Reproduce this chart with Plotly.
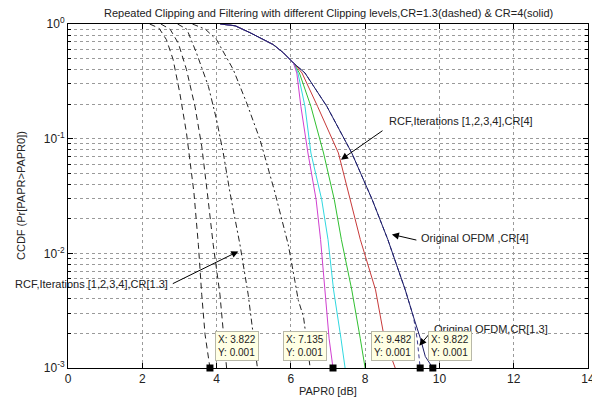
import plotly.graph_objects as go

# ---------------- data ----------------
# CR = 4 (solid curves): RCF iterations 1..4 and original OFDM
db_cr4_it4 = [4.1, 4.5, 4.9, 5.2, 5.53, 5.8, 6.07, 6.16, 6.27, 6.46, 6.68, 6.80, 6.92, 7.03, 7.135]
cc_cr4_it4 = [1.0, 0.965, 0.84, 0.75, 0.66, 0.56, 0.457, 0.374, 0.191, 0.075, 0.0294, 0.0132, 0.0048, 0.0018, 0.001]

db_cr4_it3 = [4.1, 4.5, 4.9, 5.2, 5.53, 5.8, 6.07, 6.19, 6.38, 6.54, 6.83, 7.00, 7.15, 7.35, 7.46]
cc_cr4_it3 = [1.0, 0.965, 0.84, 0.75, 0.66, 0.56, 0.457, 0.374, 0.191, 0.075, 0.0294, 0.0132, 0.0048, 0.0018, 0.001]

db_cr4_it2 = [4.1, 4.5, 4.9, 5.2, 5.53, 5.8, 6.07, 6.23, 6.54, 6.88, 7.17, 7.36, 7.64, 7.87, 8.00]
cc_cr4_it2 = [1.0, 0.965, 0.84, 0.75, 0.66, 0.56, 0.457, 0.374, 0.191, 0.075, 0.0294, 0.0132, 0.0048, 0.0018, 0.001]

db_cr4_it1 = [4.1, 4.5, 4.9, 5.2, 5.53, 5.8, 6.07, 6.30, 6.72, 7.28, 7.60, 7.87, 8.28, 8.52, 8.81]
cc_cr4_it1 = [1.0, 0.965, 0.84, 0.75, 0.66, 0.56, 0.457, 0.374, 0.191, 0.075, 0.0294, 0.0132, 0.0048, 0.0018, 0.001]

db_orig_cr4 = [4.1, 4.5, 4.9, 5.2, 5.53, 5.8, 6.07, 6.38, 6.97, 7.64, 8.19, 8.61, 9.08, 9.30, 9.49, 9.62, 9.822]
cc_orig_cr4 = [1.0, 0.965, 0.84, 0.75, 0.66, 0.56, 0.457, 0.374, 0.191, 0.075, 0.0294, 0.0132, 0.0048, 0.0028, 0.0018, 0.00126, 0.001]

db_orig_cr13 = [4.1, 4.5, 4.9, 5.2, 5.53, 5.8, 6.07, 6.38, 6.97, 7.64, 8.19, 8.61, 9.08, 9.30, 9.40, 9.482]
cc_orig_cr13 = [1.0, 0.965, 0.84, 0.75, 0.66, 0.56, 0.457, 0.374, 0.191, 0.075, 0.0294, 0.0132, 0.0048, 0.0028, 0.0018, 0.001]

# CR = 1.3 (dashed curves): RCF iterations 4,3,2,1 (left to right)
db_cr13_it4 = [2.2, 2.45, 2.65, 2.83, 3.01, 3.19, 3.39, 3.51, 3.60, 3.69, 3.822]
cc_cr13_it4 = [1.0, 0.92, 0.73, 0.49, 0.25, 0.112, 0.034, 0.0119, 0.0044, 0.00196, 0.001]

db_cr13_it3 = [2.5, 2.75, 2.97, 3.19, 3.42, 3.60, 3.75, 3.91, 4.09, 4.18, 4.27]
cc_cr13_it3 = [1.0, 0.9, 0.68, 0.40, 0.19, 0.086, 0.034, 0.0119, 0.0044, 0.00196, 0.001]

db_cr13_it2 = [2.95, 3.2, 3.46, 3.78, 4.00, 4.18, 4.36, 4.63, 4.85, 5.10]
cc_cr13_it2 = [1.0, 0.9, 0.558, 0.286, 0.146, 0.075, 0.034, 0.0119, 0.0044, 0.001]

db_cr13_it1 = [3.35, 3.7, 4.00, 4.45, 4.81, 5.17, 5.57, 5.93, 6.11, 6.20, 6.34, 6.52]
cc_cr13_it1 = [1.0, 0.9, 0.73, 0.40, 0.205, 0.098, 0.034, 0.0119, 0.0057, 0.0039, 0.0028, 0.001]

# data tips
tip_x = [3.822, 7.135, 9.482, 9.822]
tip_y = [0.001, 0.001, 0.001, 0.001]

x_ticks = [0, 2, 4, 6, 8, 10, 12, 14]
y_ticks = [0.001, 0.01, 0.1, 1]
y_ticktext = ["10<sup>-3</sup>", "10<sup>-2</sup>", "10<sup>-1</sup>", "10<sup>0</sup>"]
y_minor = [m * 10.0 ** e for e in (-3, -2, -1) for m in range(2, 10)]

title_text = "Repeated Clipping and Filtering with different Clipping levels,CR=1.3(dashed) &amp; CR=4(solid)"

# ---------------- figure ----------------
fig = go.Figure()

def add_line(x, y, color, dash="solid", width=1):
    fig.add_trace(go.Scatter(x=x, y=y, mode="lines",
                             line=dict(color=color, width=width, dash=dash),
                             showlegend=False, hoverinfo="skip"))

dash_long = "6px,4px"
dash_dot = "6px,3px,2px,3px"
add_line(db_cr13_it4, cc_cr13_it4, "#222222", dash_long)
add_line(db_cr13_it3, cc_cr13_it3, "#222222", dash_long)
add_line(db_cr13_it2, cc_cr13_it2, "#222222", dash_dot)
add_line(db_cr13_it1, cc_cr13_it1, "#222222", dash_dot)

add_line(db_orig_cr13, cc_orig_cr13, "#3a3a8a", "4px,3px")
add_line(db_cr4_it1, cc_cr4_it1, "#c83a3a")
add_line(db_cr4_it2, cc_cr4_it2, "#30c030")
add_line(db_cr4_it3, cc_cr4_it3, "#30d8e0")
add_line(db_cr4_it4, cc_cr4_it4, "#d040d0")
add_line(db_orig_cr4, cc_orig_cr4, "#1c1c68")

fig.add_trace(go.Scatter(x=tip_x, y=tip_y, mode="markers",
                         marker=dict(symbol="square", size=7, color="black"),
                         cliponaxis=False, showlegend=False, hoverinfo="skip"))

grid_col = "#9a9a9a"
# the page body adds an 8px offset, so the figure is 8px smaller and margins shifted
fig.update_layout(
    width=592, height=392,
    margin=dict(l=60, r=12, t=16, b=32, autoexpand=False),
    paper_bgcolor="white", plot_bgcolor="white",
    font=dict(family="Liberation Sans, Arial, sans-serif", size=12, color="#222"),
    xaxis=dict(range=[0, 14], tickvals=x_ticks, showgrid=True, gridcolor=grid_col,
               griddash="dot", gridwidth=1, zeroline=False, showline=True,
               linecolor="black", linewidth=1, mirror="ticks", ticks="inside",
               ticklen=5, tickcolor="black", tickfont=dict(size=12), automargin=False),
    yaxis=dict(type="log", range=[-3, 0], tickvals=y_ticks, ticktext=y_ticktext,
               showgrid=True, gridcolor=grid_col, griddash="dot", gridwidth=1,
               zeroline=False, showline=True, linecolor="black", linewidth=1,
               mirror="ticks", ticks="inside", ticklen=5, tickcolor="black",
               tickfont=dict(size=12), automargin=False,
               minor=dict(tickmode="array", tickvals=y_minor, ticks="inside",
                          ticklen=3, tickcolor="black", showgrid=True,
                          gridcolor=grid_col, griddash="dot", gridwidth=1)),
)

ann = []
# title and axis labels
ann.append(dict(text=title_text, xref="paper", yref="paper", x=0.5, y=1 + 11/344,
                showarrow=False, xanchor="center", yanchor="middle",
                font=dict(size=11, color="#222")))
ann.append(dict(text="PAPR0 [dB]", xref="paper", yref="paper", x=0.5, y=-23/344,
                showarrow=False, xanchor="center", yanchor="middle",
                font=dict(size=11, color="#222")))
ann.append(dict(text="CCDF (Pr[PAPR&gt;PAPR0])", xref="paper", yref="paper",
                x=-47/520, y=0.5, textangle=-90, showarrow=False,
                xanchor="center", yanchor="middle", font=dict(size=11, color="#222")))

# text labels
lab_font = dict(size=11, color="#222")
ann.append(dict(text="RCF,Iterations [1,2,3,4],CR[4]", x=8.595, y=-0.843,
                xref="x", yref="y", showarrow=False, xanchor="left", yanchor="middle", font=lab_font))
ann.append(dict(text="RCF,Iterations [1,2,3,4],CR[1.3]", x=2.743, y=-2.264,
                xref="x", yref="y", showarrow=False, xanchor="right", yanchor="middle", font=lab_font))
ann.append(dict(text="Original OFDM ,CR[4]", x=9.46, y=-1.87,
                xref="x", yref="y", showarrow=False, xanchor="left", yanchor="middle", font=lab_font))
ann.append(dict(text="Original OFDM,CR[1.3]", x=9.81, y=-2.657,
                xref="x", yref="y", showarrow=False, xanchor="left", yanchor="middle", font=lab_font))

# arrows
def arrow(x, y, ax, ay):
    ann.append(dict(text="", x=x, y=y, xref="x", yref="y", ax=ax, ay=ay,
                    showarrow=True, arrowhead=2, arrowsize=1.4, arrowwidth=1,
                    arrowcolor="black", standoff=0, startstandoff=0))

arrow(7.35, -1.183, 43, -30)
arrow(4.585, -1.983, -67, 33)
arrow(8.72, -1.835, 26, 6)
arrow(9.458, -2.805, 12, -14)

# data tip boxes
tip_left = [3.956, 5.80, 8.155, 9.70]
for xl, xv, yv in zip(tip_left, tip_x, tip_y):
    ann.append(dict(text="X: %.3f<br>Y: %.3f" % (xv, yv), x=xl, y=-2.805,
                    xref="x", yref="y", showarrow=False, xanchor="left",
                    yanchor="middle", align="left", bgcolor="#ffffe4",
                    bordercolor="#b8b8a8", borderwidth=1, borderpad=2,
                    font=dict(size=10, color="#222")))

fig.update_layout(annotations=ann)

# ellipses
fig.add_shape(type="circle", xref="x", yref="y", xsizemode="pixel", ysizemode="pixel",
              xanchor=6.936, yanchor=-1.253, x0=-24, x1=24, y0=-4.2, y1=4.2,
              line=dict(color="black", width=1))
fig.add_shape(type="circle", xref="x", yref="y", xsizemode="pixel", ysizemode="pixel",
              xanchor=4.738, yanchor=-1.92, x0=-48, x1=48, y0=-6.3, y1=6.3,
              line=dict(color="black", width=1))

fig.write_html("out.html")
